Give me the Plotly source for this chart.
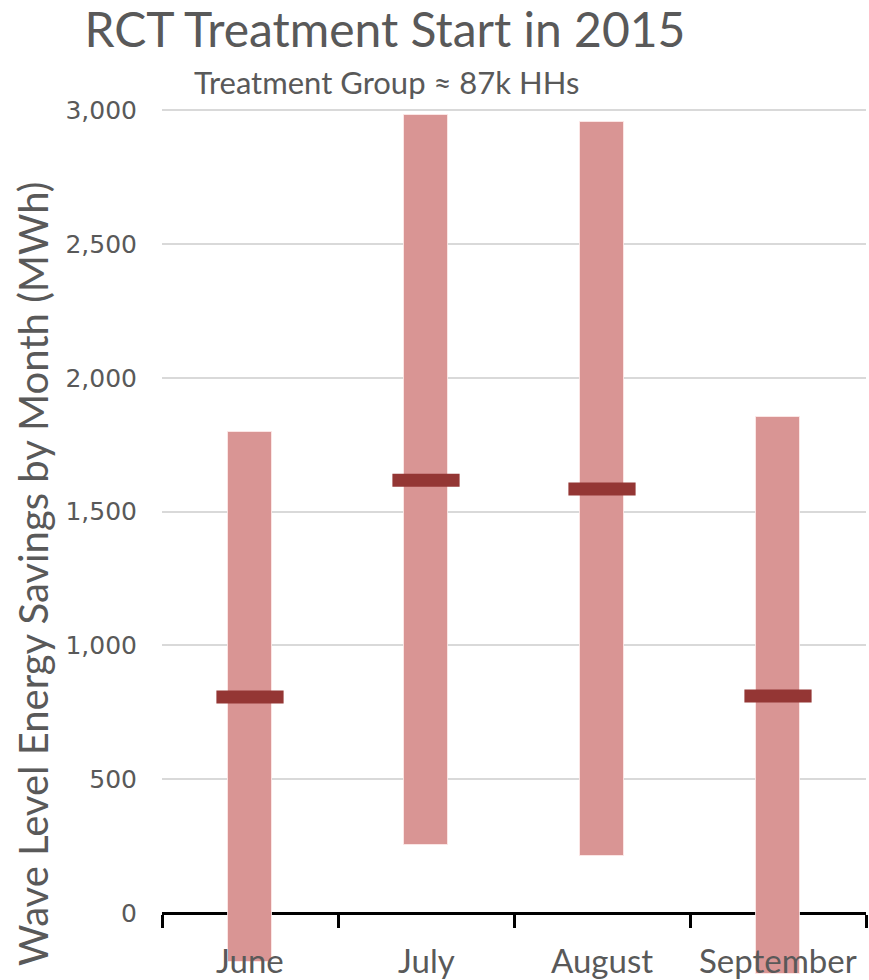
import plotly.graph_objects as go

months = ["June", "July", "August", "September"]
estimate = [807, 1617, 1584, 811]
ci_low = [-183, 254, 213, -228]
ci_high = [1797, 2981, 2955, 1853]
y_ticks = [0, 500, 1000, 1500, 2000, 2500, 3000]

title_text = "RCT Treatment Start in 2015"
subtitle_text = "Treatment Group \u2248 87k HHs"
y_title = "Wave Level Energy Savings by Month (MWh)"

FONT = "Lato, Roboto, sans-serif"
GRAY = "#595959"

y_min, y_max = -250, 3019
zero_pos = (0 - y_min) / (y_max - y_min)

fig = go.Figure()
fig.add_trace(go.Bar(
    x=months,
    base=ci_low,
    y=[h - l for h, l in zip(ci_high, ci_low)],
    width=0.25,
    marker=dict(color="#D99594", line=dict(color="rgba(255,235,235,0.8)", width=1)),
    hoverinfo="skip",
    showlegend=False,
))
fig.add_trace(go.Scatter(
    x=months,
    y=estimate,
    mode="markers",
    marker=dict(symbol="line-ew", size=48, line=dict(color="#943634", width=13)),
    showlegend=False,
))

for m in months:
    fig.add_annotation(
        x=m, y=-175, xref="x", yref="y", text=m, showarrow=False,
        font=dict(family=FONT, size=33, color=GRAY), yanchor="middle",
    )

fig.add_annotation(
    x=(386 - 162) / 704, y=1 + (105 - 82) / 875, xref="paper", yref="paper",
    text=subtitle_text, showarrow=False, xanchor="center", yanchor="middle",
    font=dict(family=FONT, size=31, color=GRAY),
)
fig.add_annotation(
    x=(33 - 162) / 704, y=(980 - 574) / 875, xref="paper", yref="paper",
    text=y_title, showarrow=False, textangle=-90, xanchor="center", yanchor="middle",
    font=dict(family=FONT, size=40, color=GRAY),
)

fig.update_layout(
    width=869, height=980,
    margin=dict(l=162, r=3, t=105, b=0),
    paper_bgcolor="white", plot_bgcolor="white",
    title=dict(text=title_text, x=385 / 869, xanchor="center", y=1 - 30 / 980,
               yanchor="middle", font=dict(family=FONT, size=48, color=GRAY)),
    bargap=0,
    xaxis=dict(
        type="category", range=[-0.5, 3.5], anchor="free", position=zero_pos,
        showline=True, linecolor="black", linewidth=3,
        ticks="outside", ticklen=13, tickwidth=3, tickcolor="black",
        tickson="boundaries", showticklabels=False, showgrid=False,
        layer="below traces", fixedrange=True,
    ),
    yaxis=dict(
        range=[y_min, y_max], tickvals=y_ticks, tickformat=",",
        showgrid=True, gridcolor="#D9D9D9", gridwidth=2, zeroline=False,
        showline=False, ticks="", ticklabelstandoff=24,
        tickfont=dict(family="DejaVu Sans", size=25, color=GRAY),
    ),
)

fig.write_html("out.html", config={"displayModeBar": False},
               post_script="document.body.style.margin='0';")
